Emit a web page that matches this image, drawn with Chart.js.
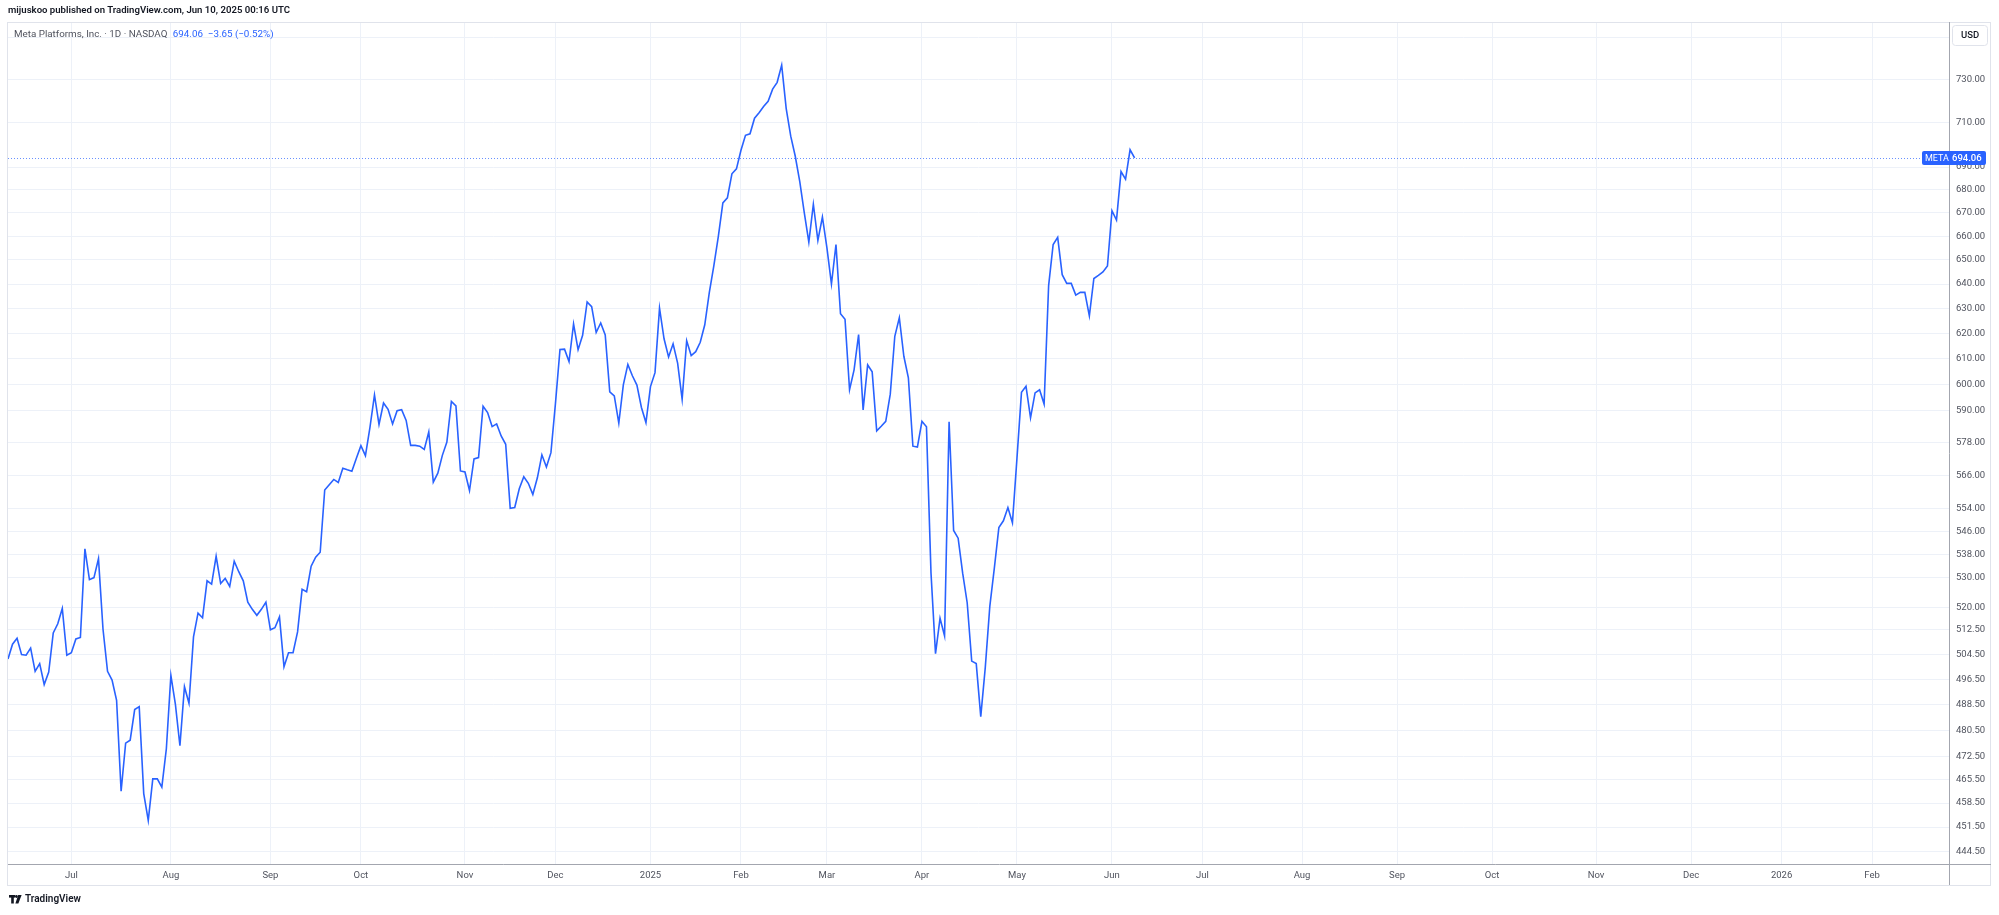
<!DOCTYPE html>
<html>
<head>
<meta charset="utf-8">
<title>META 1D</title>
<script src="https://cdn.jsdelivr.net/npm/chart.js@4.4.1/dist/chart.umd.min.js"></script>
<style>
  html, body { margin: 0; padding: 0; background: #fff; }
  body { width: 1999px; height: 915px; position: relative; overflow: hidden; font-family: Roboto, "Liberation Sans", sans-serif; }
  canvas { position: absolute; left: 0; top: 0; }
  .txt { position: absolute; white-space: nowrap; line-height: 1; }
  #published { left: 8px; top: 5px; font-size: 9.6px; font-weight: 600; color: #131722; }
  #legend { left: 14px; top: 29px; font-size: 9.8px; color: #50535e; }
  #legend .val { color: #2962ff; margin-left: 3px; }
  #footer { left: 9px; top: 894px; font-size: 10px; font-weight: 600; color: #131722; display: flex; align-items: center; gap: 3px; }
</style>
</head>
<body>
<canvas id="grafico" width="1999" height="915"></canvas>
<div class="txt" id="published">mijuskoo published on TradingView.com, Jun 10, 2025 00:16 UTC</div>
<div class="txt" id="legend">Meta Platforms, Inc. · 1D · NASDAQ <span class="val">694.06&nbsp; −3.65 (−0.52%)</span></div>
<div class="txt" id="footer">
  <svg width="13" height="9" viewBox="0 0 13 9"><rect x="0" y="0" width="6" height="2.6" fill="#131722"/><rect x="2.2" y="0" width="2.6" height="8.5" fill="#131722"/><circle cx="7.4" cy="1.5" r="1.4" fill="#131722"/><polygon points="9.2,0 12.6,0 9.4,8.5 6.4,8.5" fill="#131722"/></svg>
  <span>TradingView</span>
</div>

<script>
// Fechamentos diários META (10 jun 2024 -> 9 jun 2025), um valor por pregão
const closes = [
    503.0, 507.8, 509.7, 504.4, 504.2, 506.5, 499.0, 501.5, 494.8, 498.8,
    511.5, 514.5, 519.6, 504.2, 505.0, 509.5, 510.0, 539.9, 529.3, 530.0,
    536.5, 512.7, 499.0, 496.2, 489.8, 462.0, 476.5, 477.4, 486.9, 487.8,
    461.3, 453.4, 465.7, 465.7, 463.2, 474.8, 497.7, 488.5, 475.7, 494.1,
    488.9, 510.2, 518.0, 516.5, 528.9, 527.8, 537.3, 528.0, 529.7, 527.0,
    535.6, 532.0, 528.9, 521.7, 519.3, 517.3, 519.3, 521.7, 512.5, 513.2,
    516.8, 500.5, 505.0, 505.0, 511.8, 526.0, 525.2, 533.9, 537.0, 538.7,
    560.7, 562.6, 564.5, 563.4, 568.6, 568.0, 567.5, 572.2, 576.9, 573.2,
    583.7, 596.0, 584.8, 592.9, 590.5, 585.0, 590.0, 590.4, 586.3, 577.0,
    577.0, 576.7, 575.5, 582.0, 563.5, 566.8, 573.3, 578.2, 593.5, 591.8,
    567.6, 567.2, 560.5, 572.0, 572.5, 591.7, 589.3, 584.0, 585.0, 580.5,
    577.4, 554.1, 554.4, 561.1, 565.5, 563.1, 559.1, 565.1, 573.5, 569.0,
    574.3, 592.8, 613.7, 613.8, 608.9, 623.8, 613.6, 619.3, 632.7, 630.8,
    620.4, 624.2, 619.4, 597.2, 595.6, 585.3, 599.9, 607.8, 603.4, 599.8,
    591.2, 585.5, 599.2, 604.6, 630.2, 617.9, 610.7, 615.9, 608.3, 594.3,
    617.1, 611.3, 612.8, 616.5, 623.5, 636.5, 647.5, 659.9, 674.3, 676.5,
    687.0, 689.2, 697.5, 704.2, 704.9, 712.0, 714.5, 717.4, 719.8, 725.4,
    728.6, 736.7, 716.4, 703.8, 694.8, 683.6, 670.0, 657.5, 673.7, 658.2,
    668.2, 655.1, 640.0, 656.5, 627.9, 625.7, 598.0, 605.7, 619.6, 590.3,
    607.6, 604.9, 582.4, 584.1, 586.0, 596.3, 618.9, 626.3, 611.0, 602.6,
    576.7, 576.4, 586.0, 583.9, 531.6, 504.7, 516.3, 510.5, 585.8, 546.3,
    543.6, 531.5, 521.5, 502.3, 501.5, 484.7, 500.3, 520.3, 533.2, 547.3,
    549.7, 554.4, 549.0, 572.2, 597.0, 599.3, 587.3, 596.8, 598.0, 592.5,
    639.4, 656.5, 659.5, 643.9, 640.3, 640.3, 635.5, 636.6, 636.6, 627.1,
    642.3, 643.6, 645.0, 647.5, 670.9, 666.9, 688.0, 684.6, 697.7, 694.06
];

// Rótulos do eixo de tempo e o pregão (índice) em que cada mês começa
const monthLabels = ['Jul', 'Aug', 'Sep', 'Oct', 'Nov', 'Dec', '2025', 'Feb', 'Mar', 'Apr', 'May', 'Jun',
                     'Jul', 'Aug', 'Sep', 'Oct', 'Nov', 'Dec', '2026', 'Feb'];
const monthBars = [14, 36, 58, 78, 101, 121, 142, 162, 181, 202, 223, 244,
                   264, 286, 307, 328, 351, 372, 392, 412];

// Escala de preço (log) como no gráfico original
const priceTicks = [444.5, 451.5, 458.5, 465.5, 472.5, 480.5, 488.5, 496.5, 504.5, 512.5,
                    520, 530, 538, 546, 554, 566, 578, 590, 600, 610, 620, 630, 640, 650,
                    660, 670, 680, 690, 710, 730, 750];

const symbol = 'META';
const lastClose = closes[closes.length - 1];

document.addEventListener('DOMContentLoaded', function () {
    if (typeof Chart === 'undefined') {
        console.error('Chart.js não foi carregado corretamente.');
        return;
    }

    var fonte = 'Roboto, "Liberation Sans", sans-serif';
    var pontos = closes.map(function (c, i) { return { x: i, y: c }; });

    // Moldura, linha de preço e botão USD
    var extras = {
        id: 'extras',
        afterDraw: function (chart) {
            var ctx = chart.ctx;
            var area = chart.chartArea;
            var y = chart.scales.y.getPixelForValue(lastClose);
            ctx.save();

            // moldura externa
            ctx.strokeStyle = '#e0e3eb';
            ctx.lineWidth = 1;
            ctx.strokeRect(area.left - 0.5, area.top + 0.5, 1991 - area.left, 885 - area.top);

            // eixos
            ctx.strokeStyle = '#a3a6af';
            ctx.beginPath();
            ctx.moveTo(area.right + 0.5, area.top);
            ctx.lineTo(area.right + 0.5, 885);
            ctx.moveTo(area.left, area.bottom + 0.5);
            ctx.lineTo(1991, area.bottom + 0.5);
            ctx.stroke();

            // linha pontilhada do último preço
            ctx.strokeStyle = 'rgba(41, 98, 255, 0.7)';
            ctx.setLineDash([1, 2]);
            ctx.beginPath();
            ctx.moveTo(area.left, Math.round(y) + 0.5);
            ctx.lineTo(1922, Math.round(y) + 0.5);
            ctx.stroke();
            ctx.setLineDash([]);

            // etiqueta do último preço
            ctx.fillStyle = '#2962ff';
            ctx.beginPath();
            ctx.roundRect(1922, Math.round(y) - 7, 64, 14, 2);
            ctx.fill();
            ctx.fillStyle = '#ffffff';
            ctx.font = '9px ' + fonte;
            ctx.textBaseline = 'middle';
            ctx.textAlign = 'left';
            ctx.fillText(symbol, 1925, Math.round(y) + 0.5);
            ctx.font = '500 9.5px ' + fonte;
            ctx.fillText(lastClose.toFixed(2), 1952, Math.round(y) + 0.5);

            // botão USD
            ctx.fillStyle = '#ffffff';
            ctx.strokeStyle = '#e0e3eb';
            ctx.beginPath();
            ctx.roundRect(1952.5, 25.5, 35, 20, 3);
            ctx.fill();
            ctx.stroke();
            ctx.fillStyle = '#131722';
            ctx.font = '500 9.5px ' + fonte;
            ctx.textAlign = 'center';
            ctx.fillText('USD', 1970, 36);
            ctx.restore();
        }
    };

    new Chart(document.getElementById('grafico'), {
        type: 'line',
        data: {
            datasets: [{
                label: symbol,
                data: pontos,
                borderColor: '#2962ff',
                borderWidth: 1.6,
                pointRadius: 0,
                tension: 0,
                fill: false
            }]
        },
        options: {
            responsive: false,
            animation: false,
            layout: { padding: { left: 8, top: 22, right: 8, bottom: 30 } },
            plugins: {
                legend: { display: false },
                tooltip: { enabled: false }
            },
            scales: {
                x: {
                    type: 'linear',
                    min: 0,
                    max: 429,
                    afterBuildTicks: function (s) {
                        s.ticks = monthBars.map(function (v) { return { value: v }; });
                    },
                    afterFit: function (s) { s.height = 21; },
                    ticks: {
                        autoSkip: false,
                        maxRotation: 0,
                        padding: 6,
                        color: '#50535e',
                        font: { family: fonte, size: 9.5 },
                        callback: function (v) {
                            var i = monthBars.indexOf(v);
                            return i >= 0 ? monthLabels[i] : '';
                        }
                    },
                    grid: { color: '#edf1f8', drawTicks: false },
                    border: { display: false }
                },
                y: {
                    type: 'logarithmic',
                    position: 'right',
                    min: 440.9,
                    max: 757.4,
                    afterBuildTicks: function (s) {
                        s.ticks = priceTicks.map(function (v) { return { value: v }; });
                    },
                    afterFit: function (s) { s.width = 42; },
                    ticks: {
                        autoSkip: false,
                        padding: 7,
                        color: '#50535e',
                        font: { family: fonte, size: 9.5 },
                        callback: function (v) { return Number(v).toFixed(2); }
                    },
                    grid: { color: '#edf1f8', drawTicks: false },
                    border: { display: false }
                }
            }
        },
        plugins: [extras]
    });
});
</script>
</body>
</html>
